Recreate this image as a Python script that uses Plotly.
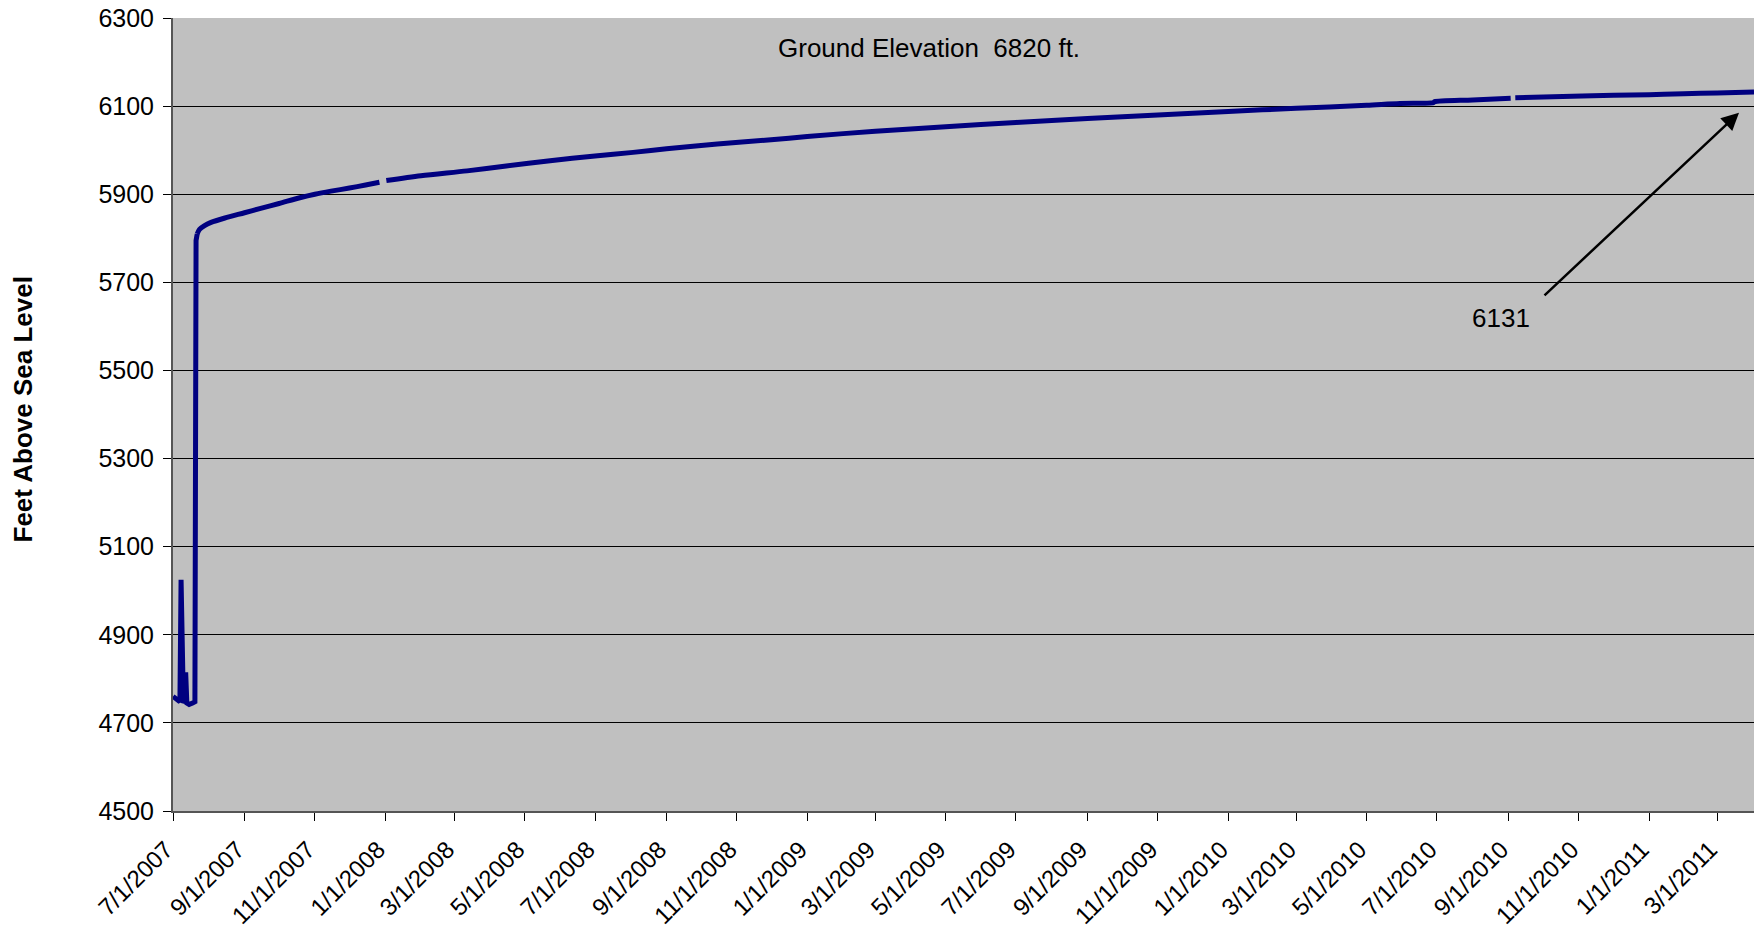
import plotly.graph_objects as go

# Water level readings
dates = [
    "2007-07-01", "2007-07-03", "2007-07-05", "2007-07-07", "2007-07-08", "2007-07-09",
    "2007-07-10", "2007-07-11", "2007-07-12", "2007-07-13", "2007-07-15", "2007-07-18",
    "2007-07-20", "2007-07-21", "2007-07-22", "2007-07-24", "2007-07-28", "2007-08-03",
    "2007-08-15", "2007-09-01", "2007-09-15", "2007-10-01", "2007-10-19", "2007-11-01",
    "2007-11-15", "2007-12-01", "2007-12-15", "2007-12-27", "2007-12-30", "2008-01-02",
    "2008-02-01", "2008-03-12", "2008-04-15", "2008-05-23", "2008-07-01", "2008-08-03",
    "2008-09-01", "2008-10-15", "2008-11-28", "2009-01-01", "2009-03-01", "2009-05-01",
    "2009-07-01", "2009-09-01", "2009-11-01", "2010-01-01", "2010-03-01", "2010-05-01",
    "2010-05-30", "2010-06-28", "2010-06-29", "2010-08-01", "2010-09-03", "2010-09-05",
    "2010-09-07", "2010-11-04", "2011-01-01", "2011-01-31", "2011-03-01", "2011-04-02",
]
levels = [
    4760, 4755, 4750, 4748, 5025, 4748,
    4745, 4750, 4815, 4745, 4742, 4745,
    4748, 5795, 5810, 5820, 5828, 5836,
    5846, 5858, 5868, 5879, 5892, 5900,
    5907, 5914, 5921, 5927, None, 5931,
    5942, 5953, 5964, 5976, 5987, 5995,
    6003, 6014, 6023, 6031, 6043, 6053,
    6063, 6072, 6080, 6088, 6095, 6102,
    6106, 6108, 6110, 6114, 6118, None,
    6119, 6123, 6126, 6128, 6130, 6132,
]
# first 15 readings: pumping-period spikes (straight segments), rest: recovery curve
split = 14

y_ticks = [4500, 4700, 4900, 5100, 5300, 5500, 5700, 5900, 6100, 6300]
y_title = "Feet Above Sea Level"
note_text = "Ground Elevation\u00a0 6820 ft."
arrow_label = "6131"

FONT = "Liberation Sans, Arial, sans-serif"
LINE = dict(color="#000080", width=5)

fig = go.Figure()
fig.add_trace(go.Scatter(
    x=dates[:split + 1], y=levels[:split + 1], mode="lines",
    line=LINE, connectgaps=False, showlegend=False,
))
fig.add_trace(go.Scatter(
    x=dates[split:], y=levels[split:], mode="lines",
    line=dict(LINE, shape="spline", smoothing=0.8),
    connectgaps=False, showlegend=False,
))

fig.update_layout(
    width=1754, height=937,
    margin=dict(l=173, r=0, t=18, b=126),
    paper_bgcolor="white",
    plot_bgcolor="#C0C0C0",
    font=dict(family=FONT, size=25, color="black"),
    showlegend=False,
)

fig.update_xaxes(
    type="date",
    range=["2007-07-01", "2011-04-02"],
    tick0="2007-07-01", dtick="M2",
    tickformat="%-m/%-d/%Y",
    tickangle=-45,
    ticks="outside", ticklen=8, tickcolor="black", tickwidth=1,
    ticklabelstandoff=5, ticklabelshift=-7,
    showgrid=False, zeroline=False, automargin=False,
    ticklabeloverflow="allow",
    showline=True, linecolor="#555555", linewidth=2,
    tickfont=dict(family=FONT, size=24, color="black"),
)
fig.update_yaxes(
    range=[4500, 6300],
    tickvals=y_ticks,
    ticks="outside", ticklen=8, tickcolor="black", tickwidth=1,
    ticklabelstandoff=4, automargin=False,
    ticklabeloverflow="allow",
    showgrid=True, gridcolor="black", gridwidth=1,
    zeroline=False,
    showline=True, linecolor="#555555", linewidth=2,
    tickfont=dict(family=FONT, size=25, color="black"),
)

fig.add_annotation(
    xref="paper", yref="paper", x=0, y=0.5,
    xshift=-168, yshift=5,
    text="<b>" + y_title + "</b>", textangle=-90,
    showarrow=False, font=dict(family=FONT, size=26, color="black"),
)
fig.add_annotation(
    x="2009-04-17", y=6233, text=note_text, showarrow=False,
    font=dict(family=FONT, size=26, color="black"),
)
fig.add_annotation(
    x="2010-08-26", y=5618, text=arrow_label, showarrow=False,
    font=dict(family=FONT, size=26, color="black"),
)
fig.add_annotation(
    x="2011-03-20", y=6085, text="", showarrow=True,
    ax=-196, ay=184, arrowhead=2, arrowsize=1.4, arrowwidth=2.5,
    arrowcolor="black",
)

# remove the default page margin so the figure sits at the window's top-left corner
fig.write_html(
    "out.html",
    config={"displayModeBar": False},
    post_script="document.body.style.margin='0';document.body.style.overflow='hidden';",
)
